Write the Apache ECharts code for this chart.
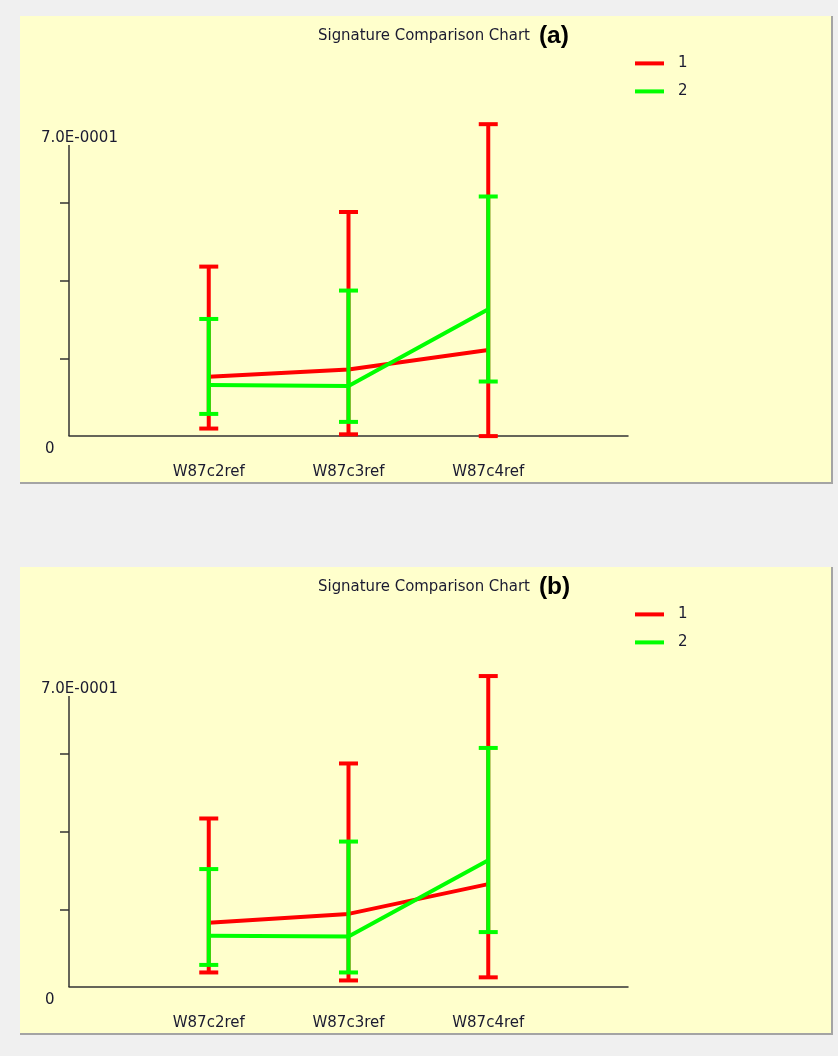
<!DOCTYPE html>
<html>
<head>
<meta charset="utf-8">
<script src="https://cdn.jsdelivr.net/npm/echarts@6/dist/echarts.min.js"></script>
<style>
  html, body { margin: 0; padding: 0; background: #f0f0f0; width: 838px; height: 1056px; overflow: hidden; }
  .panel { position: absolute; left: 20px; width: 811px; height: 466px; background: #ffffcc;
           border-right: 2px solid #a4a4a4; border-bottom: 2px solid #a4a4a4; }
  #pa { top: 16px; }
  #pb { top: 567px; }
</style>
</head>
<body>
<div id="pa" class="panel"></div>
<div id="pb" class="panel"></div>
<script>
// ---- data ----
const categories = ['', 'W87c2ref', 'W87c3ref', 'W87c4ref', ''];
const seriesNames = ['1', '2'];
const chartTitle = 'Signature Comparison Chart';
const panelTags = ['(a)', '(b)'];

// panel (a)
const aMean1 = [0.134, 0.150, 0.194];
const aLow1  = [0.017, 0.004, 0.000];
const aHigh1 = [0.382, 0.505, 0.703];
const aMean2 = [0.115, 0.113, 0.286];
const aLow2  = [0.050, 0.032, 0.123];
const aHigh2 = [0.264, 0.328, 0.540];

// panel (b)
const bMean1 = [0.145, 0.165, 0.232];
const bLow1  = [0.033, 0.015, 0.022];
const bHigh1 = [0.380, 0.504, 0.701];
const bMean2 = [0.116, 0.114, 0.286];
const bLow2  = [0.050, 0.033, 0.124];
const bHigh2 = [0.266, 0.328, 0.539];

// y axis
const yMin = 0, yMax = 0.7, yInterval = 0.175;
const yTickValues = [0.175, 0.35, 0.525];
const yLabelValues = [0, 0.7];
const yLabelTexts = ['0', '7.0E-0001'];
const yAxisLineTop = 0.656;

// ---- styling ----
const RED = '#ff0000', GREEN = '#00ff00';
const TXT = '#1a1a30';
const FONT = "'DejaVu Sans', Verdana, sans-serif";
const TITLE_FONT = "'DejaVu Sans Condensed', Roboto, 'DejaVu Sans', sans-serif";

function errRender(color) {
  return function (params, api) {
    const x = api.value(0), lo = api.value(1), hi = api.value(2);
    const pLo = api.coord([x, lo]);
    const pHi = api.coord([x, hi]);
    const hw = 9.5;
    const style = { stroke: color, lineWidth: 4, fill: null };
    return {
      type: 'group',
      children: [
        { type: 'line', shape: { x1: pLo[0], y1: pLo[1], x2: pHi[0], y2: pHi[1] }, style: style },
        { type: 'line', shape: { x1: pHi[0] - hw, y1: pHi[1], x2: pHi[0] + hw, y2: pHi[1] }, style: style },
        { type: 'line', shape: { x1: pLo[0] - hw, y1: pLo[1], x2: pLo[0] + hw, y2: pLo[1] }, style: style }
      ]
    };
  };
}

function buildOption(tag, mean1, low1, high1, mean2, low2, high2) {
  const toLine = arr => arr.map((v, i) => [i + 1, v]);
  const toErr = (lo, hi) => lo.map((v, i) => [i + 1, v, hi[i]]);
  return {
    animation: false,
    backgroundColor: 'transparent',
    title: {
      left: 293, top: 1,
      text: '{t|' + chartTitle + '}{b|' + tag + '}',
      textStyle: {
        fontWeight: 'normal',
        rich: {
          t: { fontSize: 16.6, fontWeight: 'normal', fontFamily: TITLE_FONT, color: TXT, lineHeight: 28 },
          b: { fontSize: 24.5, fontWeight: 'bold', fontFamily: "'Liberation Sans', Arial, sans-serif",
               color: '#000', lineHeight: 28, padding: [0, 0, 0, 9] }
        }
      }
    },
    legend: {
      orient: 'vertical', left: 610, top: 33.4,
      itemWidth: 29, itemHeight: 4, itemGap: 10, icon: 'rect',
      data: seriesNames,
      textStyle: { fontSize: 15, fontFamily: FONT, color: TXT, lineHeight: 18, padding: [0, 0, 0, 9] }
    },
    grid: { left: 49, top: 109.5, width: 559, height: 310.6 },
    xAxis: {
      type: 'category', data: categories, boundaryGap: false,
      axisLine: { show: true, lineStyle: { color: '#333', width: 1.5 } },
      axisTick: { show: false },
      splitLine: { show: false },
      axisLabel: { interval: 0, margin: 27, fontSize: 15, fontFamily: FONT, color: TXT, lineHeight: 18 }
    },
    yAxis: {
      type: 'value', min: yMin, max: yMax, interval: yInterval,
      axisLine: { show: false },
      splitLine: { show: false },
      axisTick: { show: true, inside: false, length: 9, customValues: yTickValues,
                  lineStyle: { color: '#333', width: 1.5 } },
      axisLabel: {
        customValues: yLabelValues,
        formatter: function (v) {
          const i = yLabelValues.indexOf(v);
          const s = i >= 0 ? yLabelTexts[i] : '';
          return v === 0 ? '{z|' + s + '}' : '{m|' + s + '}';
        },
        align: 'left', verticalAlign: 'top', margin: 28,
        fontSize: 15, fontFamily: FONT, color: TXT, lineHeight: 18, padding: [4, 0, 0, 0],
        rich: {
          z: { fontSize: 15, fontFamily: FONT, color: TXT, lineHeight: 18, padding: [0, 0, 0, 4] },
          m: { fontSize: 15, fontFamily: FONT, color: TXT, lineHeight: 18 }
        }
      }
    },
    series: [
      {
        name: seriesNames[0], type: 'line', data: toLine(mean1), z: 2,
        symbol: 'none', color: RED, lineStyle: { color: RED, width: 4 },
        markLine: {
          silent: true, symbol: 'none', label: { show: false },
          lineStyle: { color: '#333', width: 1.5, type: 'solid' },
          data: [[{ coord: [0, 0] }, { coord: [0, yAxisLineTop] }]]
        }
      },
      {
        name: seriesNames[0] + ' err', type: 'custom', data: toErr(low1, high1), z: 3,
        encode: { x: 0, y: [1, 2] }, clip: false, renderItem: errRender(RED)
      },
      {
        name: seriesNames[1], type: 'line', data: toLine(mean2), z: 4,
        symbol: 'none', color: GREEN, lineStyle: { color: GREEN, width: 4 }
      },
      {
        name: seriesNames[1] + ' err', type: 'custom', data: toErr(low2, high2), z: 5,
        encode: { x: 0, y: [1, 2] }, clip: false, renderItem: errRender(GREEN)
      }
    ]
  };
}

const ca = echarts.init(document.getElementById('pa'));
ca.setOption(buildOption(panelTags[0], aMean1, aLow1, aHigh1, aMean2, aLow2, aHigh2));
const cb = echarts.init(document.getElementById('pb'));
cb.setOption(buildOption(panelTags[1], bMean1, bLow1, bHigh1, bMean2, bLow2, bHigh2));
</script>
</body>
</html>
